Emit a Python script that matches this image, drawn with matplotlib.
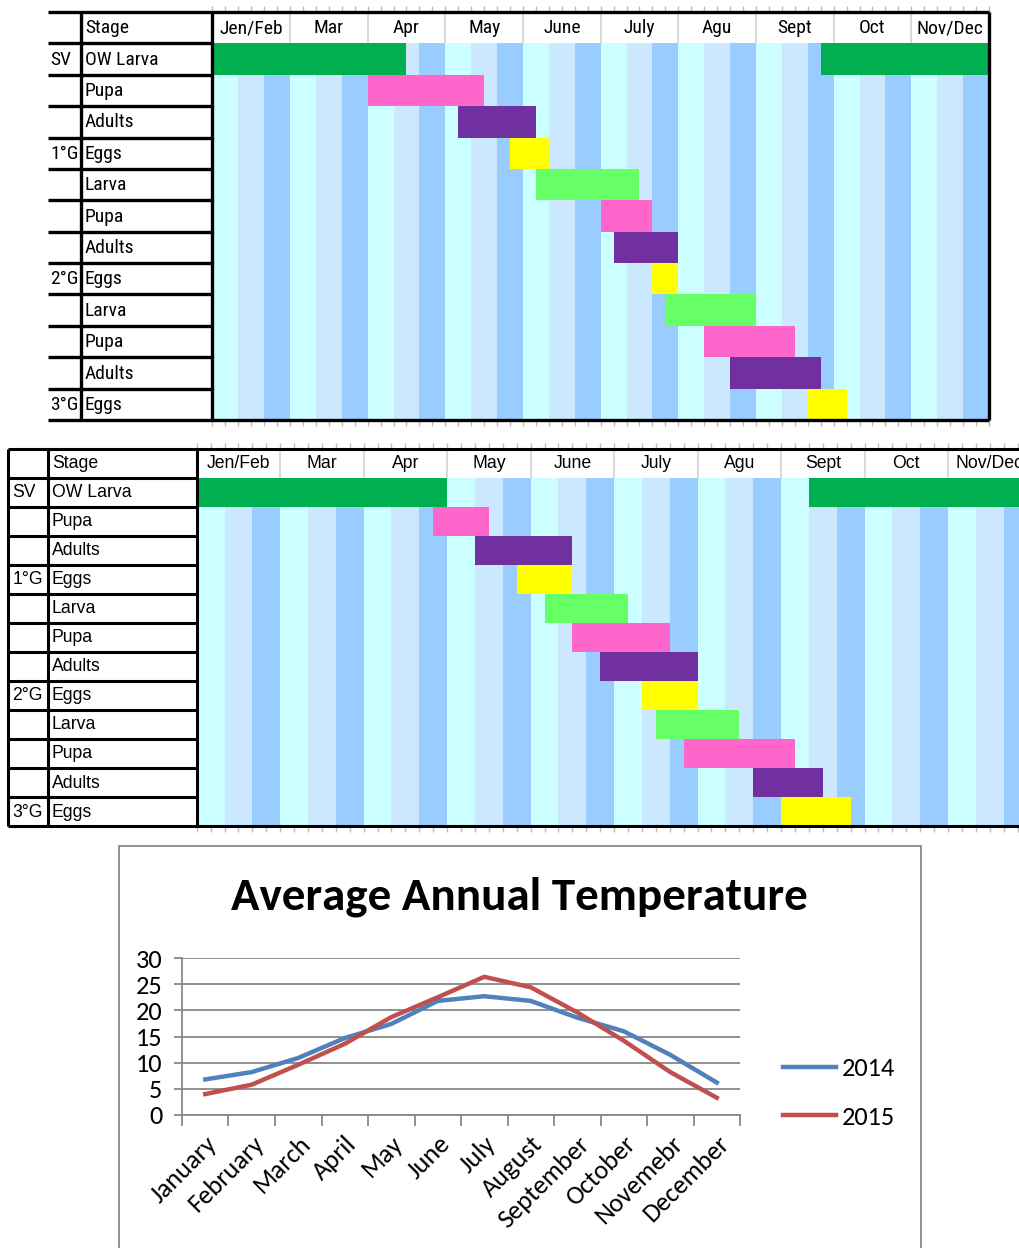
import matplotlib
matplotlib.use("Agg")
import matplotlib.pyplot as plt
from matplotlib.patches import Rectangle
import numpy as np

W, H, DPI = 1020, 1248, 100

# ---------------- data ----------------
header_months = ["Jen/Feb", "Mar", "Apr", "May", "June", "July", "Agu", "Sept", "Oct", "Nov/Dec"]
generations = ["SV", "", "", "1°G", "", "", "", "2°G", "", "", "", "3°G"]
stages = ["OW Larva", "Pupa", "Adults", "Eggs", "Larva", "Pupa", "Adults",
          "Eggs", "Larva", "Pupa", "Adults", "Eggs"]
stage_kind = ["ow", "pupa", "adult", "egg", "larva", "pupa", "adult",
              "egg", "larva", "pupa", "adult", "egg"]

# timing in thirds of a month: 0 = start of Jen/Feb, 30 = end of Nov/Dec
top_start = [0, 6, 9.5, 11.5, 12.5, 15, 15.5, 17, 17.5, 19, 20, 23]
top_end = [7.5, 10.5, 12.5, 13, 16.5, 17, 18, 18, 21, 22.5, 23.5, 24.5]
top_ow_resume = 23.5

mid_start = [0, 8.5, 10, 11.5, 12.5, 13.5, 14.5, 16, 16.5, 17.5, 20, 21]
mid_end = [9, 10.5, 13.5, 13.5, 15.5, 17, 18, 18, 19.5, 21.5, 22.5, 23.5]
mid_ow_resume = 22

cal_months = ["January", "February", "March", "April", "May", "June", "July",
              "August", "September", "October", "Novemebr", "December"]
temp_2014 = [6.8, 8.2, 10.9, 14.7, 17.4, 21.8, 22.7, 21.8, 18.6, 16.0, 11.5, 6.2]
temp_2015 = [4.0, 5.8, 9.6, 13.6, 18.7, 22.5, 26.4, 24.4, 19.6, 14.2, 8.2, 3.3]

# ---------------- styles ----------------
kind_colors = {"ow": "#00B050", "pupa": "#FF66CC", "adult": "#7030A0",
               "egg": "#FFFF00", "larva": "#66FF66"}
stripe_colors = ["#CCFFFF", "#CCE8FF", "#99CCFF"]

narrow = ["Arial Narrow", "Liberation Sans Narrow", "Roboto Condensed",
          "Archivo Narrow", "PT Sans Narrow", "Liberation Sans", "DejaVu Sans"]
arial = ["Liberation Sans", "DejaVu Sans"]
calibri = ["Carlito", "Lato", "DejaVu Sans"]

fig = plt.figure(figsize=(W / DPI, H / DPI), dpi=DPI)
fig.patch.set_facecolor("white")


def px_box(x0, y0, x1, y1):
    return [x0 / W, 1 - y1 / H, (x1 - x0) / W, (y1 - y0) / H]


def gantt(left_px, grid_x0, grid_x1, top_px, bot_px, col_div_px,
          starts, ends, ow_resume, family, fs, cell_lw, gen_pad, stage_pad,
          right_border, left_border):
    sw = (grid_x1 - grid_x0) / 30.0
    ax = fig.add_axes(px_box(left_px, top_px, grid_x1, bot_px))
    xmin = -(grid_x0 - left_px) / sw
    col_div = -(grid_x0 - col_div_px) / sw
    ax.set_xlim(xmin, 30)
    ax.set_ylim(13, 0)
    for s in ax.spines.values():
        s.set_visible(False)
    ax.set_yticks([])
    ax.set_xticks(np.arange(0, 30.01, 0.5))
    ax.tick_params(axis="x", which="both", direction="out", length=4,
                   width=1, color="#BBBBBB", top=True, bottom=True,
                   labelbottom=False, labeltop=False)

    # month stripes (three per month)
    idx = np.arange(30)
    ax.bar(idx, 12, bottom=1, width=1, align="edge",
           color=[stripe_colors[i % 3] for i in idx], linewidth=0, zorder=1)

    # stage bars
    rows = np.arange(12) + 1.5
    ax.barh(rows, np.array(ends) - np.array(starts), left=starts, height=1,
            color=[kind_colors[k] for k in stage_kind], linewidth=0, zorder=2)
    ax.barh(rows[0], 30 - ow_resume, left=ow_resume, height=1,
            color=kind_colors["ow"], linewidth=0, zorder=2)

    # header
    for m, name in enumerate(header_months):
        ax.text(3 * m + 1.5, 0.52, name, ha="center", va="center",
                fontsize=fs, family=family, zorder=4)
    ax.vlines(np.arange(3, 30, 3), 0, 1, color="#D9D9D9", lw=1.5, zorder=3)

    # label columns
    ax.text(col_div + stage_pad / sw, 0.52, "Stage", ha="left", va="center",
            fontsize=fs, family=family)
    for r in range(12):
        ax.text(xmin + gen_pad / sw, r + 1.52, generations[r], ha="left",
                va="center", fontsize=fs, family=family)
        ax.text(col_div + stage_pad / sw, r + 1.52, stages[r], ha="left",
                va="center", fontsize=fs, family=family)
    ax.hlines(np.arange(1, 13), xmin, 0, color="black", lw=cell_lw,
              zorder=5, clip_on=False)
    ax.vlines([col_div, 0], 0, 13, color="black", lw=cell_lw, zorder=5,
              clip_on=False)
    ax.hlines([0, 13], xmin, 30, color="black", lw=cell_lw, zorder=5,
              clip_on=False)
    if right_border:
        ax.vlines(30, 0, 13, color="black", lw=cell_lw, zorder=5, clip_on=False)
    if left_border:
        ax.vlines(xmin, 0, 13, color="black", lw=cell_lw, zorder=5, clip_on=False)
    return ax


gantt(48, 212.3, 989, 12, 420, 81, top_start, top_end, top_ow_resume,
      narrow, 14, 2.4, 2, 4, right_border=True, left_border=False)
gantt(8.3, 196.7, 1031.5, 448.5, 826, 47.7, mid_start, mid_end, mid_ow_resume,
      arial, 12.7, 2.2, 4, 4, right_border=False, left_border=True)

# ---------------- temperature chart ----------------
fig.patches.append(Rectangle((119 / W, 1 - 1252 / H), (921 - 119) / W,
                             (1252 - 846) / H, transform=fig.transFigure,
                             facecolor="none", edgecolor="#888888", lw=1.3))
fig.text(519 / W, 1 - 897 / H, "Average Annual Temperature", ha="center",
         va="center", fontsize=33.8, fontweight="bold", family=calibri)

ax3 = fig.add_axes(px_box(182, 958, 740, 1115))
x = np.arange(12)
ax3.plot(x, temp_2014, color="#4F81BD", lw=3.2, label="2014")
ax3.plot(x, temp_2015, color="#C0504D", lw=3.2, label="2015")
ax3.set_xlim(-0.5, 11.5)
ax3.set_ylim(0, 30)
ax3.set_yticks(np.arange(0, 31, 5))
ax3.yaxis.grid(True, color="#888888", lw=1.3)
ax3.set_axisbelow(True)
for side in ("top", "right"):
    ax3.spines[side].set_visible(False)
for side in ("left", "bottom"):
    ax3.spines[side].set_color("#888888")
    ax3.spines[side].set_linewidth(1.3)
ax3.set_xticks(np.arange(-0.5, 12, 1))
ax3.set_xticklabels([])
ax3.set_xticks(x, minor=True)
ax3.set_xticklabels(cal_months, minor=True, rotation=45, ha="right",
                    rotation_mode="anchor", fontsize=19, family=calibri)
ax3.tick_params(axis="x", which="major", length=8, width=1.3, color="#888888")
ax3.tick_params(axis="x", which="minor", length=0, pad=12)
ax3.tick_params(axis="y", length=6, width=1.3, color="#888888", pad=8)
for t in ax3.get_yticklabels():
    t.set_fontsize(19)
    t.set_family(calibri)
ax3.legend(loc="center left", bbox_to_anchor=(759 / W, 1 - 1093 / H),
           bbox_transform=fig.transFigure, frameon=False, handlelength=2.0,
           handletextpad=0.25, labelspacing=0.95,
           prop={"family": calibri, "size": 19})

fig.savefig("out.png", dpi=DPI)
